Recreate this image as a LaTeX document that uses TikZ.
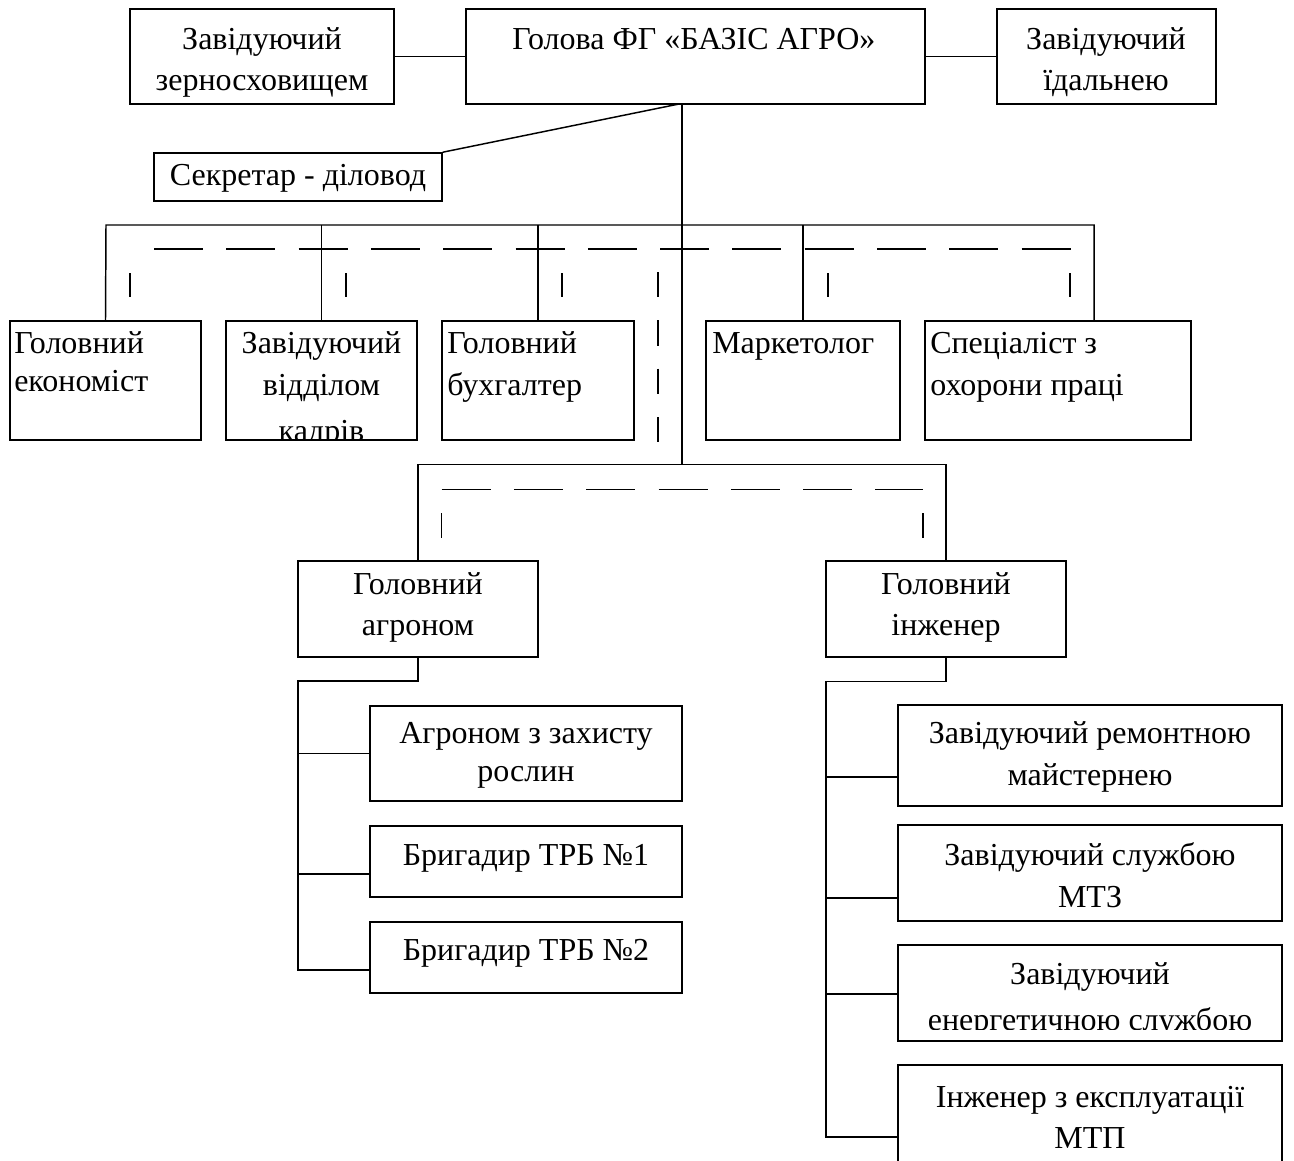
\documentclass[tikz,border=0pt]{standalone}
\usepackage{fontspec}
\setmainfont{Liberation Serif}
\usetikzlibrary{fit}
\begin{document}
\begin{tikzpicture}[x=0.75pt,y=-0.75pt,
  box/.style={draw, line width=1.2pt, inner sep=0pt, rectangle},
  ln/.style={line width=1.1pt},
  dsh/.style={line width=1.1pt, dash pattern=on 36.75pt off 17.475pt},
  vdsh/.style={line width=1.1pt, dash pattern=on 19pt off 17.25pt},
  txt/.style={font=\fontsize{24}{30}\selectfont, inner sep=0pt, anchor=base},
  txtl/.style={txt, anchor=base west},
]
\useasboundingbox (0,0) rectangle (1294,1160);
\fill[white] (0,0) rectangle (1294,1160);
\clip (0,0) rectangle (1294,1160);

% ---------- boxes ----------
\node[box, fit={(130,9) (394,104)}] (zern) {};
\node[box, fit={(466,9) (925,104)}] (holova) {};
\node[box, fit={(997,9) (1216,104)}] (idal) {};
\node[box, fit={(154,153) (442,201)}] (sekr) {};
\node[box, fit={(10,321) (201,440)}] (econ) {};
\node[box, fit={(226,321) (417,440)}] (kadry) {};
\node[box, fit={(442,321) (634,440)}] (buh) {};
\node[box, fit={(706,321) (900,440)}] (market) {};
\node[box, fit={(925,321) (1191,440)}] (ohorona) {};
\node[box, fit={(298,561) (538,657)}] (agro) {};
\node[box, fit={(826,561) (1066,657)}] (inzh) {};
\node[box, fit={(370,706) (682,801)}] (zahyst) {};
\node[box, fit={(370,826) (682,897)}] (trb1) {};
\node[box, fit={(370,922) (682,993)}] (trb2) {};
\node[box, fit={(898,705) (1282,806)}] (remont) {};
\node[box, fit={(898,825) (1282,921)}] (mtz) {};
\node[box, fit={(898,945) (1282,1041)}] (energ) {};
\node[box, fit={(898,1065) (1282,1210)}] (mtp) {};

% ---------- texts ----------
\node[txt] (zern-a) at (262,49) {Завідуючий};
\node[txt] (zern-b) at (262,90) {зерносховищем};
\node[txt] (holova-a) at (694,49) {Голова ФГ «БАЗІС АГРО»};
\node[txt] (idal-a) at (1106,49) {Завідуючий};
\node[txt] (idal-b) at (1106,90) {їдальнею};
\node[txt] (sekr-a) at (298,185) {Секретар - діловод};

\node[txtl] (econ-a) at (14,353) {Головний};
\node[txtl] (econ-b) at (14,391) {економіст};
\node[txt] (kadry-a) at (321.5,353) {Завідуючий};
\node[txt] (kadry-b) at (321.5,395) {відділом};
\begin{scope}
  \clip (226,321) rectangle (417,439);
  \node[txt] (kadry-c) at (321.5,441) {кадрів};
\end{scope}
\node[txtl] (buh-a) at (447,353) {Головний};
\node[txtl] (buh-b) at (447,395) {бухгалтер};
\node[txtl] (market-a) at (712,353) {Маркетолог};
\node[txtl] (ohorona-a) at (930,353) {Спеціаліст з};
\node[txtl] (ohorona-b) at (930,395) {охорони праці};

\node[txt] (agro-a) at (418,594) {Головний};
\node[txt] (agro-b) at (418,635) {агроном};
\node[txt] (inzh-a) at (946,594) {Головний};
\node[txt] (inzh-b) at (946,635) {інженер};

\node[txt] (zahyst-a) at (526,743) {Агроном з захисту};
\node[txt] (zahyst-b) at (526,781) {рослин};
\node[txt] (trb1-a) at (526,865) {Бригадир ТРБ №1};
\node[txt] (trb2-a) at (526,960) {Бригадир ТРБ №2};

\node[txt] (remont-a) at (1090,743) {Завідуючий ремонтною};
\node[txt] (remont-b) at (1090,785) {майстернею};
\node[txt] (mtz-a) at (1090,865) {Завідуючий службою};
\node[txt] (mtz-b) at (1090,907) {МТЗ};
\node[txt] (energ-a) at (1090,984) {Завідуючий};
\begin{scope}
  \clip (898,945) rectangle (1282,1029);
  \node[txt] (energ-b) at (1090,1030) {енергетичною службою};
\end{scope}
\node[txt] (mtp-a) at (1090,1107) {Інженер з експлуатації};
\node[txt] (mtp-b) at (1090,1148) {МТП};

% ---------- connectors ----------
\coordinate (hb) at (682,104);
\coordinate (hd) at (679,104);
\coordinate (hbot) at (682,464.5);
\coordinate (busL) at (106,225);
\coordinate (busR) at (1094,225);

\draw[ln] (zern.east) -- (holova.west);
\draw[ln] (holova.east) -- (idal.west);
\draw[ln] (hd) -- (sekr.north east);
\draw[ln] (hb) -- (hbot);

\draw[ln] (econ.north) -- (busL) -- (busR) -- (busR |- ohorona.north);
\draw[ln] (kadry.north) -- (kadry.north |- busL);
\draw[ln] (buh.north) -- (buh.north |- busL);
\draw[ln] (market.north) -- (market.north |- busL);

\draw[ln] (agro.north) |- (hbot) -| (inzh.north);

% agronomy branch
\coordinate (aL) at (298,681);
\coordinate (a1) at (298,753.5);
\coordinate (a2) at (298,874);
\coordinate (a3) at (298,970);
\draw[ln] (agro.south) |- (aL) -- (a3) -- (a3 -| trb2.west);
\draw[ln] (a1) -- (a1 -| zahyst.west);
\draw[ln] (a2) -- (a2 -| trb1.west);

% engineering branch
\coordinate (iL) at (826,681.5);
\coordinate (i1) at (826,777);
\coordinate (i2) at (826,898);
\coordinate (i3) at (826,994);
\coordinate (i4) at (826,1137);
\draw[ln] (inzh.south) |- (iL) -- (i4) -- (i4 -| mtp.west);
\draw[ln] (i1) -- (i1 -| remont.west);
\draw[ln] (i2) -- (i2 -| mtz.west);
\draw[ln] (i3) -- (i3 -| energ.west);

% ---------- dashed guides ----------
\draw[dsh] (154,249) -- (1071,249);
\foreach \x in {130,346,562,828,1070} \draw[ln] (\x,273) -- (\x,297);
\draw[vdsh] (658,272) -- (658,442);
\draw[dsh] (441.6,489.5) -- (922.8,489.5);
\foreach \x in {441.6,922.8} \draw[ln] (\x,513) -- (\x,537.5);
\end{tikzpicture}
\end{document}
